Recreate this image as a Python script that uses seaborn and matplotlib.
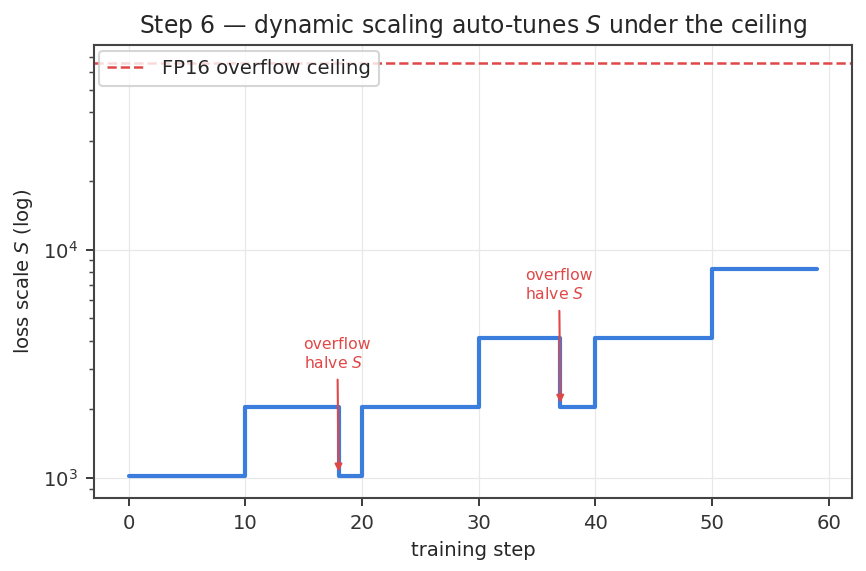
import numpy as np
import pandas as pd
import matplotlib
matplotlib.use("Agg")
import matplotlib.pyplot as plt
import seaborn as sns

# loss scale at each change point (step function, held until next step)
change_steps = [0, 10, 18, 20, 30, 37, 40, 50, 59]
loss_scale = [1024, 2048, 1024, 2048, 4096, 2048, 4096, 8192, 8192]
fp16_max = 65504

overflow_steps = [18, 37]
overflow_scale = [1024, 2048]
note_x = [15, 34]
note_y = [2950, 5900]

blue = "#3b7ddd"
red = "#e04848"

sns.set_theme(style="ticks")
plt.rcParams["font.family"] = ["DejaVu Sans"]

df = pd.DataFrame({"step": change_steps, "S": loss_scale})

fig, ax = plt.subplots(figsize=(866 / 150, 571 / 150), dpi=150)
sns.lineplot(data=df, x="step", y="S", ax=ax, color=blue, lw=2.0,
             drawstyle="steps-post", zorder=3)
ax.axhline(fp16_max, color=red, ls="--", lw=1.2, label="FP16 overflow ceiling")

for sx, sy, tx, ty in zip(overflow_steps, overflow_scale, note_x, note_y):
    ax.annotate("overflow\nhalve $S$", xy=(sx, sy), xytext=(tx, ty),
                ha="left", va="bottom", fontsize=7.5, color=red,
                arrowprops=dict(arrowstyle="-|>", color=red, lw=1.0,
                                mutation_scale=7, shrinkA=2, shrinkB=2))

ax.set_yscale("log")
ax.set_ylim(1024 * 0.8, fp16_max * 1.2)
ax.set_xlim(-3, 62)
ax.set_xticks([0, 10, 20, 30, 40, 50, 60])
ax.grid(True, color="#e8e8e8", lw=0.6)
ax.set_axisbelow(True)
for s in ax.spines.values():
    s.set_color("#444444")
    s.set_linewidth(1.0)
ax.tick_params(colors="#333333", labelsize=9.4, length=4, width=0.9)
ax.tick_params(which="minor", color="#444444", length=2.5, width=0.7)

ax.set_title("Step 6 — dynamic scaling auto-tunes $S$ under the ceiling", fontsize=11.3)
ax.set_xlabel("training step", fontsize=9.4)
ax.set_ylabel("loss scale $S$ (log)", fontsize=9.4)
ax.legend(loc="upper left", fontsize=9.4, frameon=True, borderaxespad=0.3)

fig.subplots_adjust(left=0.108, right=0.984, top=0.921, bottom=0.128)
fig.savefig("out.png", dpi=150)
